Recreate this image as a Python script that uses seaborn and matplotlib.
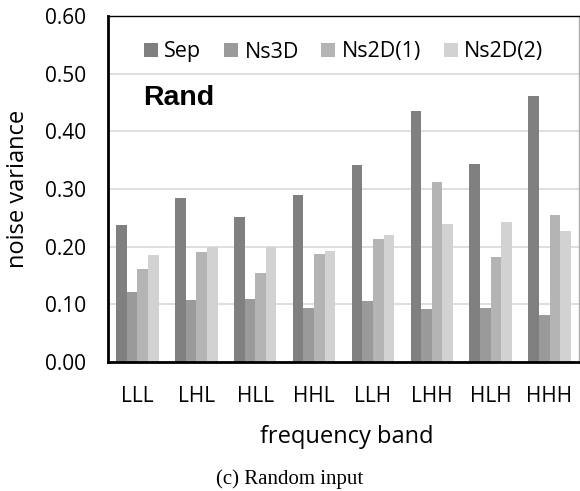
import matplotlib
matplotlib.use("Agg")
import matplotlib.pyplot as plt
import seaborn as sns
import pandas as pd

bands = ["LLL", "LHL", "HLL", "HHL", "LLH", "LHH", "HLH", "HHH"]
series = ["Sep", "Ns3D", "Ns2D(1)", "Ns2D(2)"]
sep = [0.238, 0.284, 0.251, 0.289, 0.341, 0.435, 0.343, 0.461]
ns3d = [0.122, 0.108, 0.109, 0.094, 0.106, 0.092, 0.093, 0.082]
ns2d1 = [0.162, 0.191, 0.154, 0.187, 0.214, 0.312, 0.182, 0.255]
ns2d2 = [0.186, 0.200, 0.200, 0.192, 0.221, 0.240, 0.242, 0.228]
yticks = [0.0, 0.1, 0.2, 0.3, 0.4, 0.5, 0.6]

rows = []
for s, vals in zip(series, [sep, ns3d, ns2d1, ns2d2]):
    for b, v in zip(bands, vals):
        rows.append({"band": b, "series": s, "value": v})
df = pd.DataFrame(rows)

sns.set_style("white")
plt.rcParams["font.family"] = ["Open Sans", "DejaVu Sans"]
plt.rcParams["text.color"] = "black"
plt.rcParams["xtick.color"] = "black"
plt.rcParams["ytick.color"] = "black"
plt.rcParams["axes.labelcolor"] = "black"

W, H = 580, 491
fig = plt.figure(figsize=(5.8, 4.91), dpi=100)
ax = fig.add_axes([108 / W, 1 - 362 / H, (579 - 108) / W, (362 - 16) / H])
palette = ["#808080", "#9a9a9a", "#b4b4b4", "#d2d2d2"]
sns.barplot(data=df, x="band", y="value", hue="series", order=bands,
            hue_order=series, palette=palette, width=0.72, ax=ax,
            saturation=1, edgecolor="none", linewidth=0)

ax.set_ylim(0, 0.6)
ax.set_yticks(yticks)
ax.set_yticklabels([f"{t:.2f}" for t in yticks], fontsize=15)
ax.set_xlim(-0.5, len(bands) - 0.5)
ax.tick_params(axis="x", labelsize=15, length=0, pad=17, labelcolor="black")
ax.tick_params(axis="y", length=0, pad=16, labelcolor="black")
ax.yaxis.grid(True, color="#d9d9d9", linewidth=1.2)
ax.set_axisbelow(True)
ax.set_xlabel("")
ax.set_ylabel("")

for side in ["left", "bottom"]:
    ax.spines[side].set_color("black")
    ax.spines[side].set_linewidth(2)
ax.spines["top"].set_color("black")
ax.spines["top"].set_linewidth(1)
ax.spines["right"].set_color("#aaaaaa")
ax.spines["right"].set_linewidth(1)

leg = ax.legend(loc="center", bbox_to_anchor=(0.5, (362 - 52) / 346), ncol=4, frameon=False,
                fontsize=15.5, handlelength=0.65, handleheight=0.65, handletextpad=0.3,
                columnspacing=1.05, title=None, borderaxespad=0)
for t in leg.get_texts():
    t.set_color("black")

fig.text(143 / W, 1 - 98 / H, "Rand", fontsize=20.5, fontweight="bold",
         family=["Liberation Sans"], ha="left", va="center", color="black")

fig.text(18 / W, 1 - 189 / H, "noise variance", rotation=90, ha="center", va="center",
         fontsize=17, color="black")
fig.text(347 / W, 1 - 437 / H, "frequency band", ha="center", va="center", fontsize=17,
         color="black")
fig.text(289.5 / W, 1 - 479 / H, "(c) Random input", ha="center", va="center", fontsize=15,
         family=["Liberation Serif"], color="black")

fig.savefig("out.png", dpi=100)
